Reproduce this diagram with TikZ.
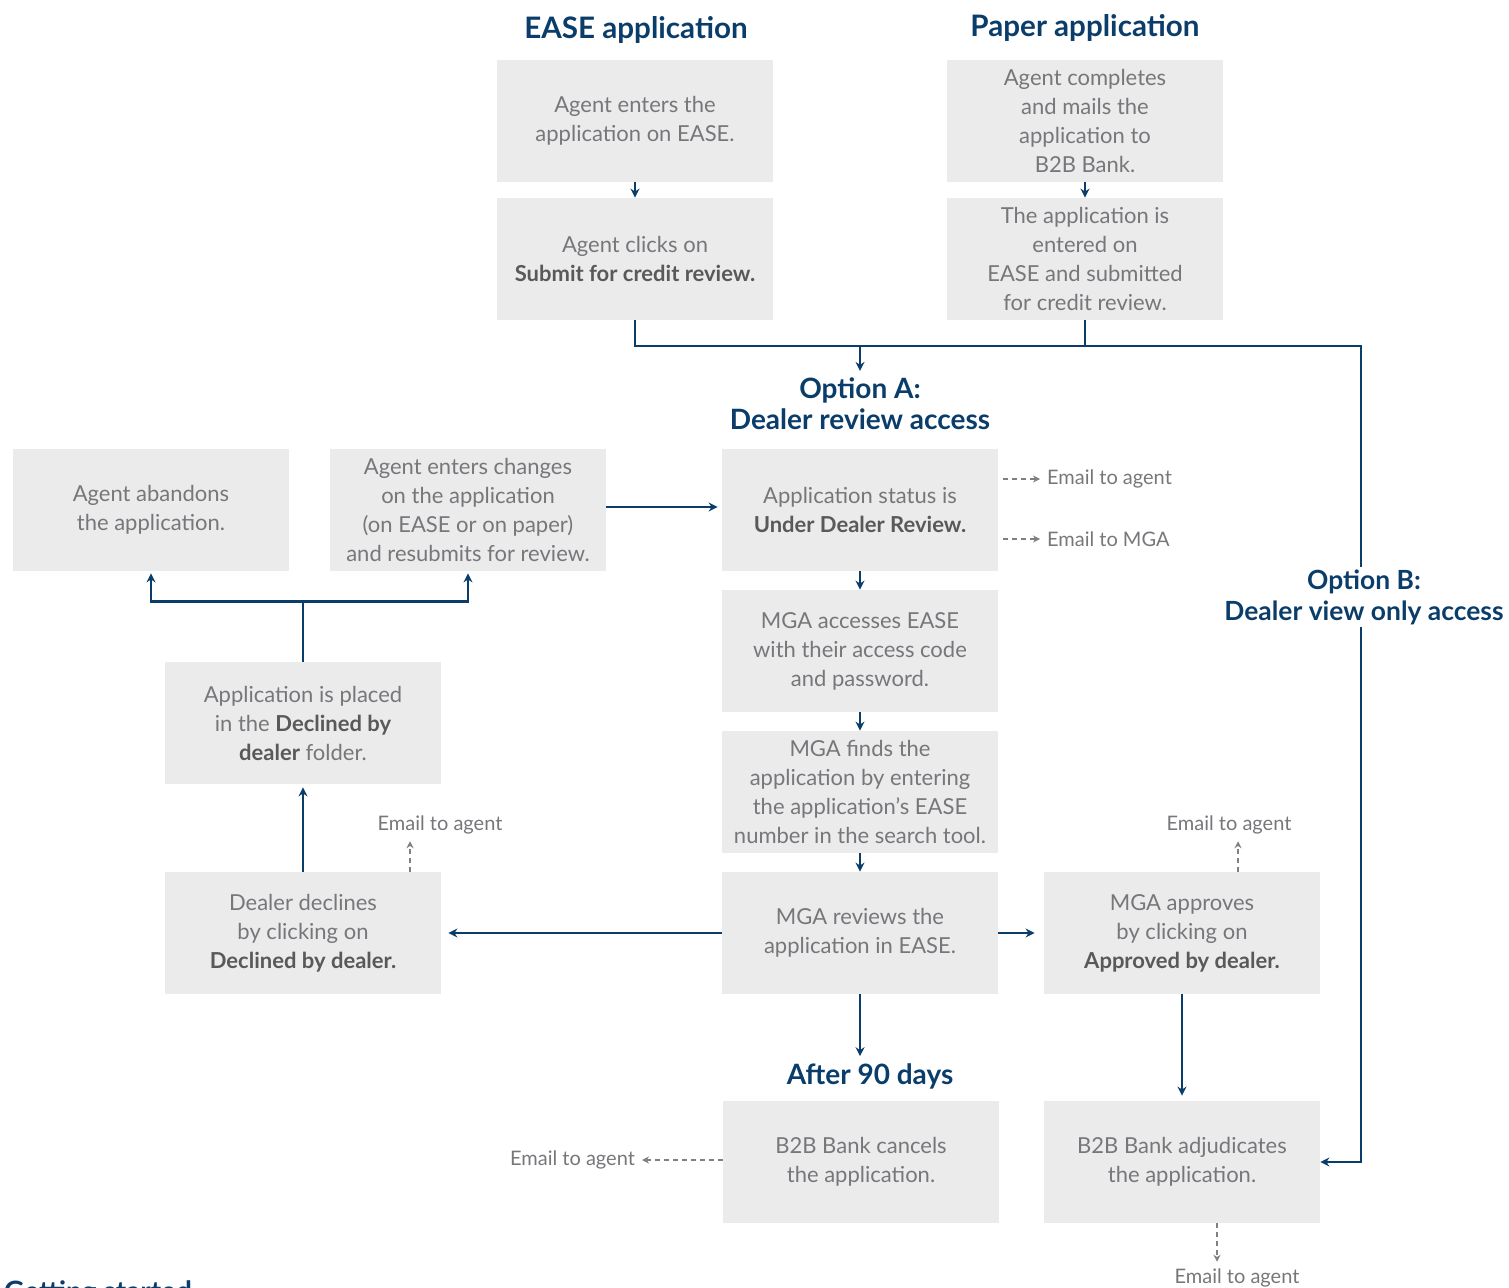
\documentclass[tikz,border=0pt]{standalone}
\usepackage{fontspec}
\setmainfont{Lato}
\usetikzlibrary{arrows.meta, positioning}
\definecolor{navy}{HTML}{0B3D6B}
\definecolor{boxgray}{HTML}{EBEBEC}
\definecolor{txtgray}{HTML}{76777A}
\definecolor{boldgray}{HTML}{58595B}
\newcommand{\bld}[1]{{\bfseries\color{boldgray}#1}}

\begin{document}
\begin{tikzpicture}[x=0.5pt, y=-0.5pt, font=\fontsize{11}{14.5}\selectfont,
  box/.style={fill=boxgray, text=txtgray, minimum width=138pt, minimum height=61pt, align=center, inner sep=0pt},
  head/.style={text=navy, font=\fontsize{14}{15.5}\selectfont\bfseries, align=center},
  flow/.style={draw=navy, line width=1.2pt, -{Stealth[length=4.5pt, width=4.5pt]}},
  line/.style={draw=navy, line width=1.2pt},
  mail/.style={draw=gray, line width=0.7pt, dash pattern=on 2.5pt off 2pt, -{Stealth[length=3.5pt, width=3.5pt]}},
  note/.style={text=txtgray, font=\fontsize{10}{12}\selectfont}]
\useasboundingbox (0,0) rectangle (1509,1288);
% headings
\node[head, font=\fontsize{14.8}{16}\selectfont\bfseries] (easeH) at (636,30) {EASE application};
\node[head, font=\fontsize{14.8}{16}\selectfont\bfseries] (paperH) at (1085,28) {Paper application};
\node[head] (optA) at (860,404) {Option A:\\Dealer review access};
\node[head] (after) at (870,1076) {After 90 days};
\node[head, anchor=base west] (start) at (-3,1301) {Getting started};
%
\node[box] (ease1) at (635,121) {Agent enters the\\application on EASE.};
\node[box] (ease2) at (635,259) {Agent clicks on\\\bld{Submit for credit review.}};
\node[box] (paper1) at (1085,121) {Agent completes\\and mails the\\application to\\B2B Bank.};
\node[box] (paper2) at (1085,259) {The application is\\entered on\\EASE and submitted\\for credit review.};
\node[box] (status) at (860,510) {Application status is\\\bld{Under Dealer Review.}};
\node[box] (mga1) at (860,651) {MGA accesses EASE\\with their access code\\and password.};
\node[box] (mga2) at (860,792) {MGA finds the\\application by entering\\the application’s EASE\\number in the search tool.};
\node[box] (review) at (860,933) {MGA reviews the\\application in EASE.};
\node[box] (cancel) at (861,1162) {B2B Bank cancels\\the application.};
\node[box] (approve) at (1182,933) {MGA approves\\by clicking on\\\bld{Approved by dealer.}};
\node[box] (adjud) at (1182,1162) {B2B Bank adjudicates\\the application.};
\node[box] (decline) at (303,933) {Dealer declines\\by clicking on\\\bld{Declined by dealer.}};
\node[box] (placed) at (303,723) {Application is placed\\in the \bld{Declined by}\\\bld{dealer} folder.};
\node[box] (abandon) at (151,510) {Agent abandons\\the application.};
\node[box] (changes) at (468,510) {Agent enters changes\\on the application\\(on EASE or on paper)\\and resubmits for review.};
%
\draw[flow] (ease1) -- (ease2);
\draw[flow] (paper1) -- (paper2);
\coordinate (bend) at (1361,346);
\draw[flow] (ease2.south) |- (bend) |- (adjud.east);
\draw[line] (paper2.south) -- (paper2.south |- bend);
\draw[flow] (optA.north |- bend) -- (optA.north);
\node[head, fill=white, inner sep=1pt, font=\fontsize{13.2}{15.5}\selectfont\bfseries] (optB) at (1364,597) {Option B:\\Dealer view only access};
\draw[flow] (status) -- (mga1);
\draw[flow] (mga1) -- (mga2);
\draw[flow] (mga2) -- (review);
\draw[flow, shorten >=3.5pt] (review) -- (decline);
\draw[flow, shorten >=4.5pt] (review) -- (approve);
\draw[flow] (review.south) -- (review.south |- after.north);
\draw[flow, shorten >=2.5pt] (approve) -- (adjud);
\draw[flow, shorten >=1.5pt] (decline) -- (placed);
\draw[line] (placed.north) -- ++(0,-60) coordinate (fork);
\draw[flow, shorten >=1pt] (fork) -| (abandon.south);
\draw[flow, shorten >=1pt] (fork) -| (changes.south);
\draw[flow, shorten >=2pt] (changes.east |- 0,507) -- (status.west |- 0,507);
% e-mails
\node[note, anchor=west] (mailA) at (1040,479) {Email to agent};
\node[note, anchor=west] (mailM) at (1040,539) {Email to MGA};
\draw[mail, shorten <=2.5pt] (status.east |- mailA) -- (mailA.west);
\draw[mail, shorten <=2.5pt] (status.east |- mailM) -- (mailM.west);
\node[note] (mailD) at (440,825) {Email to agent};
\coordinate (dD) at (410,872);
\draw[mail] (dD) -- (dD |- mailD.south);
\node[note] (mailP) at (1229,825) {Email to agent};
\coordinate (dP) at (1238,872);
\draw[mail] (dP) -- (dP |- mailP.south);
\node[note, anchor=east] (mailC) at (642,1160) {Email to agent};
\draw[mail] (cancel.west |- mailC) -- (mailC.east);
\node[note] (mailB) at (1237,1278) {Email to agent};
\coordinate (dB) at (1217,1223);
\draw[mail] (dB) -- (dB |- mailB.north);
\end{tikzpicture}
\end{document}
